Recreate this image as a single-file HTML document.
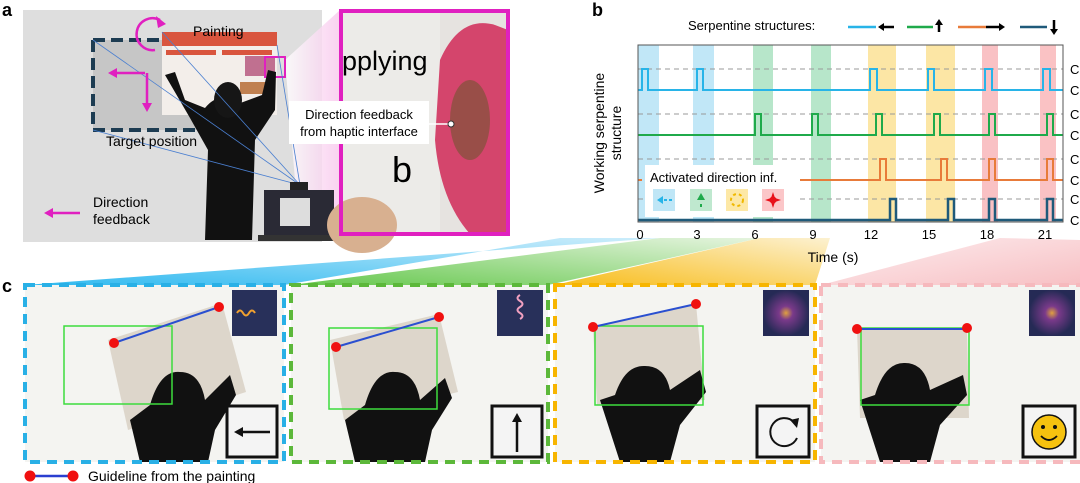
<!DOCTYPE html>
<html><head><meta charset="utf-8"><style>
html,body{margin:0;padding:0;background:#fff;}
svg{display:block;font-family:"Liberation Sans",sans-serif;}
</style></head><body>
<svg width="1080" height="483" viewBox="0 0 1080 483" xmlns="http://www.w3.org/2000/svg">
<defs>
<linearGradient id="gb" x1="0" y1="1" x2="1" y2="0"><stop offset="0" stop-color="#1ab2ee"/><stop offset="1" stop-color="#c9ecfb"/></linearGradient>
<linearGradient id="gg" x1="0" y1="1" x2="1" y2="0"><stop offset="0" stop-color="#55c23a"/><stop offset="1" stop-color="#e3f3dc"/></linearGradient>
<linearGradient id="go" x1="0" y1="1" x2="1" y2="0"><stop offset="0" stop-color="#f7b500"/><stop offset="1" stop-color="#fcf0cc"/></linearGradient>
<linearGradient id="gp" x1="1" y1="1" x2="0" y2="0"><stop offset="0" stop-color="#f6b9bd"/><stop offset="1" stop-color="#fdecee"/></linearGradient>
<linearGradient id="gm" x1="0" y1="0" x2="1" y2="0"><stop offset="0" stop-color="#fff"/><stop offset="1" stop-color="#f8c6ec"/></linearGradient>
<radialGradient id="spec"><stop offset="0" stop-color="#e0a040"/><stop offset="0.3" stop-color="#7a3a8a"/><stop offset="1" stop-color="#252a55"/></radialGradient>
</defs>

<!-- fans -->
<polygon points="25,285 284,285 560,238 660,238" fill="url(#gb)" opacity="0.9"/>
<polygon points="291,285 548,285 760,238 660,238" fill="url(#gg)" opacity="0.9"/>
<polygon points="555,285 815,285 830,238 760,238" fill="url(#go)" opacity="0.9"/>
<polygon points="821,285 1080,285 1080,240 1000,238" fill="url(#gp)" opacity="0.9"/>

<!-- PANEL A -->
<text x="2" y="16" font-size="18" font-weight="bold">a</text>
<rect x="23" y="10" width="299" height="232" fill="#dedede"/>
<polygon points="285,60 340,10 340,235 300,240" fill="url(#gm)" opacity="0.8"/>
<rect x="93" y="40" width="110" height="90" fill="#c6c6c6"/>
<path d="M93,40 L165,40 M93,40 L93,130 L200,130" fill="none" stroke="#1d3c52" stroke-width="4" stroke-dasharray="12,6"/>
<!-- poster -->
<rect x="162" y="32" width="115" height="83" fill="#f3eeea"/>
<rect x="162" y="32" width="115" height="14" fill="#d9553e"/>
<rect x="166" y="50" width="50" height="5" fill="#d9553e"/>
<rect x="222" y="50" width="50" height="5" fill="#d9553e"/>
<rect x="245" y="56" width="30" height="20" fill="#c07090"/>
<rect x="240" y="82" width="30" height="12" fill="#c08050"/>
<rect x="265" y="57" width="20" height="20" fill="none" stroke="#e020c0" stroke-width="2"/>
<!-- person -->
<path d="M165,75 L175,72 L185,100 L205,108 Q220,90 235,105 L262,95 L268,70 L276,72 L275,110 L255,140 L252,240 L205,240 L208,150 L190,118 Z" fill="#111"/>
<ellipse cx="228" cy="100" rx="14" ry="18" fill="#161616"/>
<!-- lines from webcam -->
<g stroke="#4a7fd0" stroke-width="0.8" fill="none">
<line x1="300" y1="185" x2="93" y2="40"/><line x1="300" y1="185" x2="93" y2="130"/>
<line x1="300" y1="185" x2="162" y2="32"/><line x1="300" y1="185" x2="277" y2="45"/>
</g>
<!-- laptop -->
<rect x="290" y="182" width="18" height="8" fill="#222"/>
<rect x="264" y="190" width="70" height="45" fill="#2a2a35"/>
<rect x="280" y="198" width="30" height="28" fill="#ddd"/>
<rect x="258" y="235" width="80" height="6" fill="#333"/>
<!-- pink arrows -->
<g stroke="#e020c0" stroke-width="2.5" fill="#e020c0">
<line x1="145" y1="73" x2="115" y2="73"/><polygon points="108,73 117,68 117,78" stroke="none"/>
<line x1="147" y1="73" x2="147" y2="105"/><polygon points="147,112 142,103 152,103" stroke="none"/>
<path d="M155,50 A16,16 0 1 1 160,20" fill="none"/><polygon points="166,24 156,16 158,28" stroke="none"/>
<line x1="80" y1="213" x2="52" y2="213"/><polygon points="44,213 53,208 53,218" stroke="none"/>
</g>
<text x="193" y="36" font-size="14">Painting</text>
<text x="106" y="146" font-size="14">Target position</text>
<text x="93" y="207" font-size="14">Direction</text>
<text x="93" y="224" font-size="14">feedback</text>

<!-- magnified -->
<rect x="341" y="11" width="167" height="223" fill="#ecebe8"/>
<rect x="440" y="11" width="68" height="223" fill="#e6e3e0"/>
<ellipse cx="362" cy="225" rx="35" ry="28" fill="#d8b090"/>
<text x="342" y="70" font-size="27">pplying</text>
<text x="392" y="182" font-size="36">b</text>
<path d="M440,60 Q460,15 495,25 L508,30 L508,234 L470,234 Q440,200 435,140 Z" fill="#d4456c"/>
<ellipse cx="470" cy="120" rx="20" ry="40" fill="#8a5040" opacity="0.8"/>
<rect x="341" y="11" width="167" height="223" fill="none" stroke="#e020c0" stroke-width="4"/>
<rect x="289" y="101" width="140" height="43" fill="#fff"/>
<line x1="429" y1="124" x2="451" y2="124" stroke="#fff" stroke-width="1.5"/>
<circle cx="451" cy="124" r="3" fill="#fff" stroke="#333"/>
<text x="359" y="119" font-size="13" text-anchor="middle">Direction feedback</text>
<text x="359" y="136" font-size="13" text-anchor="middle">from haptic interface</text>

<!-- PANEL B -->
<text x="592" y="16" font-size="18" font-weight="bold">b</text>
<text x="688" y="30" font-size="13">Serpentine structures:</text>
<g stroke-width="2.5">
<line x1="848" y1="27" x2="876" y2="27" stroke="#28b4e8"/><line x1="880" y1="27" x2="894" y2="27" stroke="#000"/><polygon points="878,27 884,23 884,31"/>
<line x1="907" y1="27" x2="933" y2="27" stroke="#1faa4b"/><line x1="939" y1="32" x2="939" y2="22" stroke="#000"/><polygon points="939,19 935,25 943,25"/>
<line x1="958" y1="27" x2="986" y2="27" stroke="#e87b3a"/><line x1="986" y1="27" x2="1000" y2="27" stroke="#000"/><polygon points="1005,27 999,23 999,31"/>
<line x1="1020" y1="27" x2="1047" y2="27" stroke="#1f5a7a"/><line x1="1054" y1="20" x2="1054" y2="30" stroke="#000"/><polygon points="1054,35 1050,29 1058,29"/>
</g>
<g opacity="0.55">
<rect x="638" y="45" width="21" height="177" fill="#8fd4f2"/>
<rect x="693" y="45" width="21" height="177" fill="#8fd4f2"/>
<rect x="753" y="45" width="20" height="177" fill="#7ed2a0"/>
<rect x="811" y="45" width="20" height="177" fill="#7ed2a0"/>
<rect x="868" y="45" width="28" height="177" fill="#fbd35c"/>
<rect x="926" y="45" width="29" height="177" fill="#fbd35c"/>
<rect x="982" y="45" width="16" height="177" fill="#f58f94"/>
<rect x="1040" y="45" width="16" height="177" fill="#f58f94"/>
</g>
<g stroke="#999" stroke-dasharray="5,4" stroke-width="1">
<line x1="638" y1="69" x2="1063" y2="69"/><line x1="638" y1="114" x2="1063" y2="114"/>
<line x1="638" y1="159" x2="1063" y2="159"/><line x1="638" y1="199" x2="1063" y2="199"/>
</g>
<g fill="none" stroke-width="2">
<path d="M638,90 H642 V69 H648 V90 H697 V69 H703 V90 H870 V69 H877 V90 H928 V69 H934 V90 H985 V69 H992 V90 H1043 V69 H1050 V90 H1063" stroke="#28b4e8"/>
<path d="M638,135 H755 V114 H761 V135 H812 V114 H818 V135 H876 V114 H882 V135 H934 V114 H940 V135 H989 V114 H995 V135 H1047 V114 H1053 V135 H1063" stroke="#1faa4b"/>
<path d="M800,180 H880 V159 H886 V180 H941 V159 H947 V180 H989 V159 H995 V180 H1047 V159 H1053 V180 H1063" stroke="#e87b3a"/>
<line x1="638" y1="180" x2="642" y2="180" stroke="#e87b3a"/>
<path d="M638,220 H890 V199 H896 V220 H948 V199 H954 V220 H989 V199 H995 V220 H1047 V199 H1053 V220 H1063" stroke="#1f5a7a" stroke-width="2.5"/>
</g>
<rect x="645" y="165" width="155" height="52" fill="#fff"/>
<text x="650" y="182" font-size="13">Activated direction inf.</text>
<rect x="653" y="189" width="22" height="22" fill="#bfe6f6"/>
<rect x="690" y="189" width="22" height="22" fill="#bfe8cf"/>
<rect x="726" y="189" width="22" height="22" fill="#fde8a6"/>
<rect x="762" y="189" width="22" height="22" fill="#fbc6c8"/>
<polygon points="657,200 663,196 663,204" fill="#28b4e8"/><line x1="664" y1="200" x2="672" y2="200" stroke="#28b4e8" stroke-width="2" stroke-dasharray="3,2"/>
<polygon points="701,193 697,200 705,200" fill="#1faa4b"/><rect x="700" y="204" width="2" height="3" fill="#1faa4b"/>
<circle cx="737" cy="200" r="6" fill="none" stroke="#f0b800" stroke-width="2" stroke-dasharray="3,3"/>
<path d="M773,192 L775,198 L781,200 L775,202 L773,208 L771,202 L765,200 L771,198 Z" fill="#e8101a"/><circle cx="773" cy="200" r="3.5" fill="#e8101a"/>
<rect x="638" y="45" width="425" height="177" fill="none" stroke="#555" stroke-width="1"/>
<g font-size="13" text-anchor="middle">
<text x="640" y="239">0</text><text x="697" y="239">3</text><text x="755" y="239">6</text><text x="813" y="239">9</text>
<text x="871" y="239">12</text><text x="929" y="239">15</text><text x="987" y="239">18</text><text x="1045" y="239">21</text>
<text x="833" y="262" font-size="14">Time (s)</text>
</g>
<g font-size="14" text-anchor="middle" transform="translate(604,133) rotate(-90)">
<text x="0" y="0">Working serpentine</text><text x="0" y="17">structure</text>
</g>
<g font-size="13">
<text x="1070" y="74">C</text><text x="1070" y="95">C</text><text x="1070" y="119">C</text><text x="1070" y="140">C</text>
<text x="1070" y="164">C</text><text x="1070" y="185">C</text><text x="1070" y="204">C</text><text x="1070" y="225">C</text>
</g>

<!-- PANEL C -->
<text x="2" y="292" font-size="18" font-weight="bold">c</text>
<!-- tile 1 -->
<rect x="25" y="285" width="259" height="177" fill="#f4f4f1"/>
<polygon points="108,340 222,303 246,392 128,430" fill="#ddd6cb"/>
<path d="M130,420 L150,405 Q160,370 180,372 Q200,372 205,400 L230,375 L236,395 L215,430 L208,462 L140,462 Z" fill="#111"/>
<rect x="64" y="326" width="108" height="78" fill="none" stroke="#3ddc3d" stroke-width="1.5"/>
<line x1="114" y1="343" x2="219" y2="307" stroke="#2a4fd0" stroke-width="2"/>
<circle cx="114" cy="343" r="5" fill="#f01010"/><circle cx="219" cy="307" r="5" fill="#f01010"/>
<rect x="232" y="290" width="45" height="46" fill="#28305a"/><path d="M237,313 q3,-5 6,0 t6,0 t6,0" stroke="#f0a030" fill="none" stroke-width="2"/>
<rect x="227" y="406" width="50" height="51" fill="#f4f4f4" stroke="#111" stroke-width="3"/>
<line x1="270" y1="432" x2="240" y2="432" stroke="#111" stroke-width="2.5"/><polygon points="234,432 243,427 243,437" fill="#111"/>
<rect x="25" y="285" width="259" height="177" fill="none" stroke="#29b0e6" stroke-width="4" stroke-dasharray="10,7"/>
<!-- tile 2 -->
<rect x="291" y="285" width="257" height="177" fill="#f4f4f1"/>
<polygon points="330,340 439,314 458,392 344,420" fill="#ddd6cb"/>
<path d="M345,420 L365,405 Q375,370 395,372 Q415,372 420,400 L445,378 L452,398 L432,430 L425,462 L355,462 Z" fill="#111"/>
<rect x="329" y="328" width="108" height="81" fill="none" stroke="#3ddc3d" stroke-width="1.5"/>
<line x1="336" y1="347" x2="439" y2="317" stroke="#2a4fd0" stroke-width="2"/>
<circle cx="336" cy="347" r="5" fill="#f01010"/><circle cx="439" cy="317" r="5" fill="#f01010"/>
<rect x="497" y="290" width="46" height="46" fill="#28305a"/><path d="M520,295 q-5,3 0,6 t0,6 t0,6 t0,6" stroke="#f0a0c0" fill="none" stroke-width="2"/>
<rect x="492" y="406" width="50" height="51" fill="#f4f4f4" stroke="#111" stroke-width="3"/>
<line x1="517" y1="452" x2="517" y2="420" stroke="#111" stroke-width="2.5"/><polygon points="517,413 512,422 522,422" fill="#111"/>
<rect x="291" y="285" width="257" height="177" fill="none" stroke="#5cb83a" stroke-width="4" stroke-dasharray="10,7"/>
<!-- tile 3 -->
<rect x="555" y="285" width="260" height="177" fill="#f4f4f1"/>
<polygon points="593,327 696,304 705,400 597,405" fill="#ddd6cb"/>
<path d="M600,400 L615,395 Q625,365 645,366 Q665,366 670,390 L700,370 L706,392 L680,425 L670,462 L620,462 Z" fill="#111"/>
<rect x="595" y="326" width="108" height="79" fill="none" stroke="#3ddc3d" stroke-width="1.5"/>
<line x1="593" y1="327" x2="696" y2="304" stroke="#2a4fd0" stroke-width="2"/>
<circle cx="593" cy="327" r="5" fill="#f01010"/><circle cx="696" cy="304" r="5" fill="#f01010"/>
<rect x="763" y="290" width="46" height="46" fill="url(#spec)"/>
<rect x="757" y="406" width="52" height="51" fill="#f4f4f4" stroke="#111" stroke-width="3"/>
<path d="M797,438 A14,14 0 1 1 794,422" fill="none" stroke="#111" stroke-width="2"/><polygon points="799,418 790,420 797,428" fill="#111"/>
<rect x="555" y="285" width="260" height="177" fill="none" stroke="#f7b500" stroke-width="4" stroke-dasharray="10,7"/>
<!-- tile 4 -->
<rect x="821" y="285" width="259" height="177" fill="#f4f4f1"/>
<polygon points="857,329 967,329 969,418 860,418" fill="#ddd6cb"/>
<path d="M860,400 L875,395 Q885,362 905,363 Q925,363 930,390 L963,375 L967,395 L940,425 L930,462 L880,462 Z" fill="#111"/>
<rect x="861" y="328" width="108" height="77" fill="none" stroke="#3ddc3d" stroke-width="1.5"/>
<line x1="857" y1="329" x2="967" y2="329" stroke="#2a4fd0" stroke-width="2"/>
<circle cx="857" cy="329" r="5" fill="#f01010"/><circle cx="967" cy="328" r="5" fill="#f01010"/>
<rect x="1029" y="290" width="46" height="46" fill="url(#spec)"/>
<rect x="1023" y="406" width="52" height="51" fill="#f4f4f4" stroke="#111" stroke-width="3"/>
<circle cx="1049" cy="432" r="17" fill="#f6c20f" stroke="#111" stroke-width="1.5"/>
<circle cx="1043" cy="427" r="2" fill="#111"/><circle cx="1055" cy="427" r="2" fill="#111"/>
<path d="M1041,436 Q1049,444 1057,436" fill="none" stroke="#111" stroke-width="1.8"/>
<rect x="821" y="285" width="262" height="177" fill="none" stroke="#f6b9bd" stroke-width="4" stroke-dasharray="10,7"/>

<!-- legend -->
<line x1="30" y1="476" x2="73" y2="476" stroke="#2a3fd0" stroke-width="2.5"/>
<circle cx="30" cy="476" r="5.5" fill="#f01010"/><circle cx="73" cy="476" r="5.5" fill="#f01010"/>
<text x="88" y="481" font-size="14">Guideline from the painting</text>
</svg>
</body></html>
